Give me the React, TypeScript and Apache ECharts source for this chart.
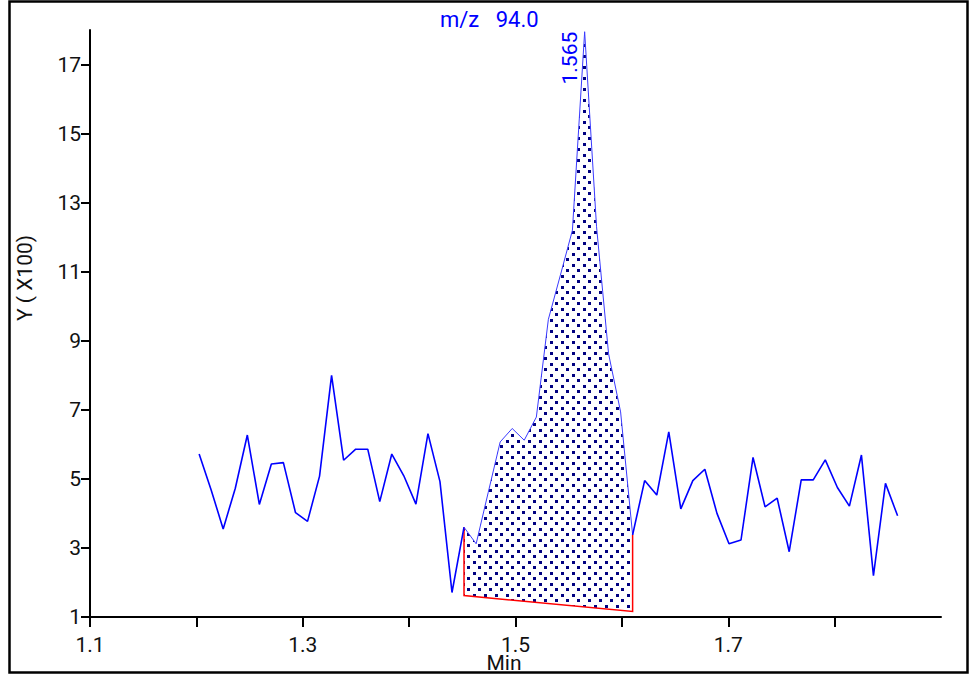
import React, { useEffect, useRef } from "react";
import * as echarts from "echarts";

// Scan times (min) and ion abundance (x100) for m/z 94.0
const retentionTimes = [
  1.2026, 1.2139, 1.2252, 1.2366, 1.2479, 1.2592, 1.2705, 1.2818, 1.2932, 1.3045,
  1.3158, 1.3271, 1.3384, 1.3498, 1.3611, 1.3724, 1.3837, 1.395, 1.4064, 1.4177,
  1.429, 1.4403, 1.4516, 1.463, 1.4743, 1.4856, 1.4969, 1.5082, 1.5196, 1.5309,
  1.5422, 1.5535, 1.565, 1.5762, 1.5875, 1.5988, 1.6101, 1.6214, 1.6328, 1.6441,
  1.6554, 1.6667, 1.678, 1.6894, 1.7007, 1.712, 1.7233, 1.7346, 1.746, 1.7573,
  1.7686, 1.7799, 1.7912, 1.8026, 1.8139, 1.8252, 1.8365, 1.8478, 1.8592,
];
const abundance = [
  5.72, 4.68, 3.55, 4.73, 6.27, 4.26, 5.43, 5.47, 4.02, 3.77,
  5.08, 8.0, 5.54, 5.86, 5.86, 4.34, 5.72, 5.09, 4.27, 6.31,
  4.92, 1.71, 3.6, 3.12, 4.6, 6.07, 6.46, 6.12, 6.79, 9.62,
  10.9, 12.2, 17.95, 12.3, 8.62, 6.94, 3.38, 4.95, 4.53, 6.36,
  4.13, 4.95, 5.28, 4.0, 3.12, 3.23, 5.62, 4.19, 4.44, 2.89,
  4.97, 4.97, 5.55, 4.75, 4.21, 5.69, 2.2, 4.87, 3.93,
];

// Integrated peak: first/last scan index, apex index and the drawn baseline
const peakStartIndex = 22;
const peakEndIndex = 36;
const peakApexIndex = 32;
const baselineTimes = [1.4516, 1.6101];
const baselineLevels = [1.62, 1.16];

// Axis ticks and labels
const xTickValues = [1.1, 1.2, 1.3, 1.4, 1.5, 1.6, 1.7, 1.8];
const xLabelValues = [1.1, 1.3, 1.5, 1.7];
const yTickValues = [1, 3, 5, 7, 9, 11, 13, 15, 17];

const massLabel = "m/z   94.0";
const xAxisTitle = "Min";
const yAxisTitle = "Y ( X100)";

const FONT = "Roboto, 'Noto Sans', sans-serif";
const TRACE_BLUE = "#0000ff";

function makeDotPattern(): string {
  const c = document.createElement("canvas");
  c.width = 11;
  c.height = 11;
  const ctx = c.getContext("2d")!;
  ctx.fillStyle = "#000080";
  ctx.fillRect(0, 0, 3, 3);
  ctx.fillRect(5, 5, 3, 3);
  return c.toDataURL();
}

export default function App() {
  const ref = useRef<HTMLDivElement>(null);

  useEffect(() => {
    if (!ref.current) return;
    const chart = echarts.init(ref.current, null, { renderer: "svg" });

    const pairs = retentionTimes.map((t, i) => [t, abundance[i]]);
    const dotFill = {
      image: makeDotPattern(),
      repeat: "repeat",
      imageWidth: 11,
      imageHeight: 11,
    };

    chart.setOption({
      animation: false,
      backgroundColor: "#ffffff",
      grid: { left: 90, right: 30, top: 30, bottom: 58 },
      xAxis: {
        type: "value",
        min: 1.1,
        max: 1.9,
        axisLine: { show: true, lineStyle: { color: "#000", width: 2 } },
        axisTick: {
          show: true,
          length: 10,
          customValues: xTickValues,
          lineStyle: { color: "#000", width: 2 },
        },
        axisLabel: {
          customValues: xLabelValues,
          formatter: (v: number) => v.toFixed(1),
          margin: 19,
          lineHeight: 18,
          color: "#111",
          fontFamily: FONT,
          fontSize: 21,
        },
        splitLine: { show: false },
      },
      yAxis: {
        type: "value",
        min: 1,
        max: 18,
        axisLine: { show: true, lineStyle: { color: "#000", width: 2 } },
        axisTick: {
          show: true,
          length: 9,
          customValues: yTickValues,
          lineStyle: { color: "#000", width: 2 },
        },
        axisLabel: {
          customValues: yTickValues,
          formatter: (v: number) => String(v),
          margin: 9,
          padding: [8, 0, 0, 0],
          color: "#111",
          fontFamily: FONT,
          fontSize: 21,
        },
        splitLine: { show: false },
      },
      series: [
        {
          type: "custom",
          coordinateSystem: "cartesian2d",
          silent: true,
          z: 1,
          data: [[retentionTimes[peakApexIndex], abundance[peakApexIndex]]],
          encode: { x: 0, y: 1 },
          renderItem: (_params: any, api: any) => {
            const top: number[][] = [];
            for (let i = peakStartIndex; i <= peakEndIndex; i++) {
              top.push(api.coord([retentionTimes[i], abundance[i]]));
            }
            const b0 = api.coord([baselineTimes[0], baselineLevels[0]]);
            const b1 = api.coord([baselineTimes[1], baselineLevels[1]]);
            const apexTime = api.value(0) as number;
            const apex = api.coord([apexTime, api.value(1)]);
            return {
              type: "group",
              children: [
                {
                  type: "polygon",
                  shape: { points: [...top, b1, b0] },
                  style: { fill: dotFill, stroke: null },
                },
                {
                  type: "polyline",
                  shape: { points: [top[0], b0, b1, top[top.length - 1]] },
                  style: { stroke: "#ff0000", lineWidth: 1.5, fill: null },
                },
                {
                  type: "text",
                  x: apex[0] - 4,
                  y: apex[1],
                  rotation: Math.PI / 2,
                  style: {
                    text: apexTime.toFixed(3),
                    fill: TRACE_BLUE,
                    font: `21px ${FONT}`,
                    align: "right",
                    verticalAlign: "bottom",
                  },
                },
              ],
            };
          },
        },
        {
          type: "line",
          name: "before",
          data: pairs.slice(0, peakStartIndex + 1),
          showSymbol: false,
          symbol: "none",
          z: 3,
          lineStyle: { color: TRACE_BLUE, width: 1.6 },
        },
        {
          type: "line",
          name: "peak",
          data: pairs.slice(peakStartIndex, peakEndIndex + 1),
          showSymbol: false,
          symbol: "none",
          z: 3,
          lineStyle: { color: "#3a3aff", width: 1 },
        },
        {
          type: "line",
          name: "after",
          data: pairs.slice(peakEndIndex),
          showSymbol: false,
          symbol: "none",
          z: 3,
          lineStyle: { color: TRACE_BLUE, width: 1.6 },
        },
      ],
      graphic: [
        {
          type: "text",
          x: 440,
          y: 8,
          style: {
            text: massLabel,
            fill: TRACE_BLUE,
            font: `22px ${FONT}`,
            align: "left",
            verticalAlign: "top",
          },
        },
        {
          type: "text",
          x: 25,
          y: 278,
          rotation: Math.PI / 2,
          style: {
            text: yAxisTitle,
            fill: "#111",
            font: `21px ${FONT}`,
            align: "center",
            verticalAlign: "middle",
          },
        },
        {
          type: "text",
          x: 504,
          y: 655,
          style: {
            text: xAxisTitle,
            fill: "#111",
            font: `21px ${FONT}`,
            lineHeight: 16,
            align: "center",
            verticalAlign: "top",
          },
        },
        {
          type: "rect",
          z: 100,
          shape: { x: 9.5, y: 1.5, width: 958, height: 671 },
          style: { fill: null, stroke: "#000", lineWidth: 2.5 },
        },
      ],
    });

    return () => chart.dispose();
  }, []);

  return (
    <div
      ref={ref}
      style={{ position: "fixed", left: 0, top: 0, width: 971, height: 675 }}
    />
  );
}
